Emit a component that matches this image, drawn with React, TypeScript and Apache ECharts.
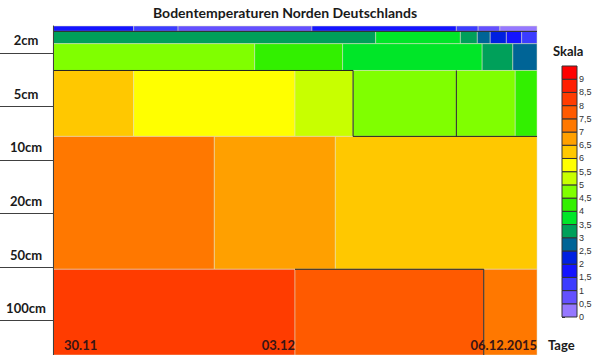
import React, { useEffect, useRef } from "react";
import * as echarts from "echarts";

// Tick labels
const depthLabels = ["2cm", "5cm", "10cm", "20cm", "50cm", "100cm"];
const depthTicks = [0, 1, 2, 3, 4, 5];
const dayLabels = ["30.11", "03.12", "06.12.2015"];
const dayTicks = [0, 3, 6];
const scaleTicks = [0, 0.5, 1, 1.5, 2, 2.5, 3, 3.5, 4, 4.5, 5, 5.5, 6, 6.5, 7, 7.5, 8, 8.5, 9, 9.5];
const scaleColors = [
  "#9678ff", "#6450ff", "#3c3cff", "#1414ff", "#0020e0", "#006496", "#00a05a",
  "#00e628", "#32f000", "#80ff00", "#c8ff00", "#ffff00", "#ffc800", "#ffa000",
  "#ff7800", "#ff5a00", "#ff3c00", "#ff1e00", "#ff0000",
];

// Layer boundaries (depth axis units) and cells per layer: [dayStart, dayEnd, temperature]
const layerBounds = [-0.5, -0.4, -0.17, 0.33, 1.56, 4.04, 5.64];
const layerA = [[0, 1.0, 1.8], [1.0, 1.55, 1.3], [1.55, 3.21, 0.8], [3.21, 5.0, 1.8], [5.0, 5.27, 1.2], [5.27, 5.54, 0.8], [5.54, 6, 0.3]];
const layerB = [[0, 4.0, 3.2], [4.0, 5.05, 3.7], [5.05, 5.26, 3.2], [5.26, 5.42, 2.7], [5.42, 5.62, 2.2], [5.62, 5.81, 1.7], [5.81, 6, 1.2]];
const layerC = [[0, 2.5, 4.7], [2.5, 3.59, 4.2], [3.59, 5.32, 3.7], [5.32, 5.7, 3.2], [5.7, 6, 2.7]];
const layerD = [[0, 1.0, 6.2], [1.0, 3.0, 5.7], [3.0, 3.72, 5.2], [3.72, 5.0, 4.7], [5.0, 5.73, 4.7], [5.73, 6, 4.2]];
const layerE = [[0, 2.0, 7.2], [2.0, 3.5, 6.7], [3.5, 6, 6.2]];
const layerF = [[0, 3.0, 8.2], [3.0, 5.34, 7.7], [5.34, 6, 7.2]];
const layers = [layerA, layerB, layerC, layerD, layerE, layerF];

// Isotherm contour lines: [day, depth]
const contours = [
  [[0, -0.4], [6, -0.4]],
  [[0, 0.33], [3.72, 0.33], [3.72, 1.56], [6, 1.56]],
  [[5.0, 0.33], [5.0, 1.56]],
  [[3.0, 4.04], [5.34, 4.04], [5.34, 5.64]],
];

const FONT = "Lato";

export default function App() {
  const ref = useRef<HTMLDivElement>(null);
  useEffect(() => {
    if (!ref.current) return;
    const chart = echarts.init(ref.current, null, { renderer: "svg" });

    const cells: number[][] = [];
    layers.forEach((layer, li) => {
      layer.forEach((c) => cells.push([c[0], c[1], layerBounds[li], layerBounds[li + 1], c[2]]));
    });
    const scaleBoxes: number[][] = [];
    for (let i = 0; i < scaleTicks.length - 1; i++) {
      scaleBoxes.push([0, 1, scaleTicks[i], scaleTicks[i + 1], (scaleTicks[i] + scaleTicks[i + 1]) / 2]);
    }
    const pieces = scaleColors.map((c, i) => ({ gte: scaleTicks[i], lt: scaleTicks[i + 1], color: c }));

    const makeRender = (stroke: string) => (params: any, api: any) => {
      const p0 = api.coord([api.value(0), api.value(2)]);
      const p1 = api.coord([api.value(1), api.value(3)]);
      return {
        type: "rect",
        shape: {
          x: Math.min(p0[0], p1[0]),
          y: Math.min(p0[1], p1[1]),
          width: Math.abs(p1[0] - p0[0]),
          height: Math.abs(p1[1] - p0[1]),
        },
        style: { fill: api.visual("color"), stroke, lineWidth: 1 },
      };
    };

    chart.setOption({
      animation: false,
      backgroundColor: "#ffffff",
      title: [
        {
          text: "Bodentemperaturen Norden Deutschlands",
          left: 153,
          top: 5,
          padding: 0,
          textStyle: { fontFamily: FONT, fontWeight: "bold", fontSize: 14, color: "#1a1a1a" },
        },
        {
          text: "Skala",
          left: 553,
          top: 44,
          padding: 0,
          textStyle: { fontFamily: FONT, fontWeight: "bold", fontSize: 13, color: "#1a1a1a" },
        },
        {
          text: "Tage",
          left: 548,
          top: 338,
          padding: 0,
          textStyle: { fontFamily: FONT, fontWeight: "bold", fontSize: 13, color: "#1a1a1a" },
        },
      ],
      grid: [
        { left: 53, top: 26, width: 484, height: 329 },
        { left: 562, top: 66, width: 15, height: 251 },
      ],
      xAxis: [
        {
          type: "value",
          gridIndex: 0,
          min: 0,
          max: 6,
          z: 10,
          axisLine: { show: false },
          axisTick: { show: false },
          splitLine: { show: false },
          axisLabel: {
            inside: true,
            customValues: dayTicks,
            formatter: (v: number) => dayLabels[dayTicks.indexOf(v)] ?? "",
            align: "right",
            alignMinLabel: "left",
            alignMaxLabel: "right",
            margin: 4,
            padding: [0, 0, 0, 11],
            fontFamily: FONT,
            fontWeight: "bold",
            fontSize: 13,
            color: "#3a1515",
          },
        },
        { type: "value", gridIndex: 1, min: 0, max: 1, show: false },
      ],
      yAxis: [
        {
          type: "value",
          gridIndex: 0,
          inverse: true,
          min: -0.5,
          max: 5.64,
          z: 10,
          axisLine: { show: true, lineStyle: { color: "#404040", width: 1 } },
          splitLine: { show: false },
          axisTick: { show: true, customValues: depthTicks, length: 53, lineStyle: { color: "#404040", width: 1 } },
          axisLabel: {
            customValues: depthTicks,
            formatter: (v: number) => depthLabels[depthTicks.indexOf(v)] ?? "",
            margin: 27,
            align: "center",
            verticalAlign: "bottom",
            padding: [0, 0, 6, 0],
            fontFamily: FONT,
            fontWeight: "bold",
            fontSize: 13,
            color: "#1a1a1a",
          },
        },
        {
          type: "value",
          gridIndex: 1,
          min: 0,
          max: 9.5,
          interval: 0.5,
          position: "right",
          axisLine: { show: false },
          splitLine: { show: false },
          axisTick: { show: true, length: 3, lineStyle: { color: "#333" } },
          axisLabel: {
            margin: 2,
            fontSize: 9,
            fontFamily: "Liberation Sans",
            color: "#333",
            formatter: (v: number) => (v > 9 ? "" : String(v).replace(".", ",")),
          },
        },
      ],
      visualMap: {
        type: "piecewise",
        show: false,
        dimension: 4,
        seriesIndex: [0, 1],
        pieces,
      },
      series: [
        {
          type: "custom",
          xAxisIndex: 0,
          yAxisIndex: 0,
          data: cells,
          encode: { x: [0, 1], y: [2, 3] },
          renderItem: makeRender("rgba(225,225,200,0.5)"),
        },
        {
          type: "custom",
          xAxisIndex: 1,
          yAxisIndex: 1,
          data: scaleBoxes,
          encode: { x: [0, 1], y: [2, 3] },
          renderItem: makeRender("#333333"),
        },
        ...contours.map((c) => ({
          type: "line",
          xAxisIndex: 0,
          yAxisIndex: 0,
          data: c,
          symbol: "none",
          silent: true,
          lineStyle: { color: "#202020", width: 1 },
        })),
      ],
    });
    return () => chart.dispose();
  }, []);
  return (
    <div
      ref={ref}
      style={{ position: "fixed", left: 0, top: 0, width: 600, height: 355, background: "#fff" }}
    />
  );
}
